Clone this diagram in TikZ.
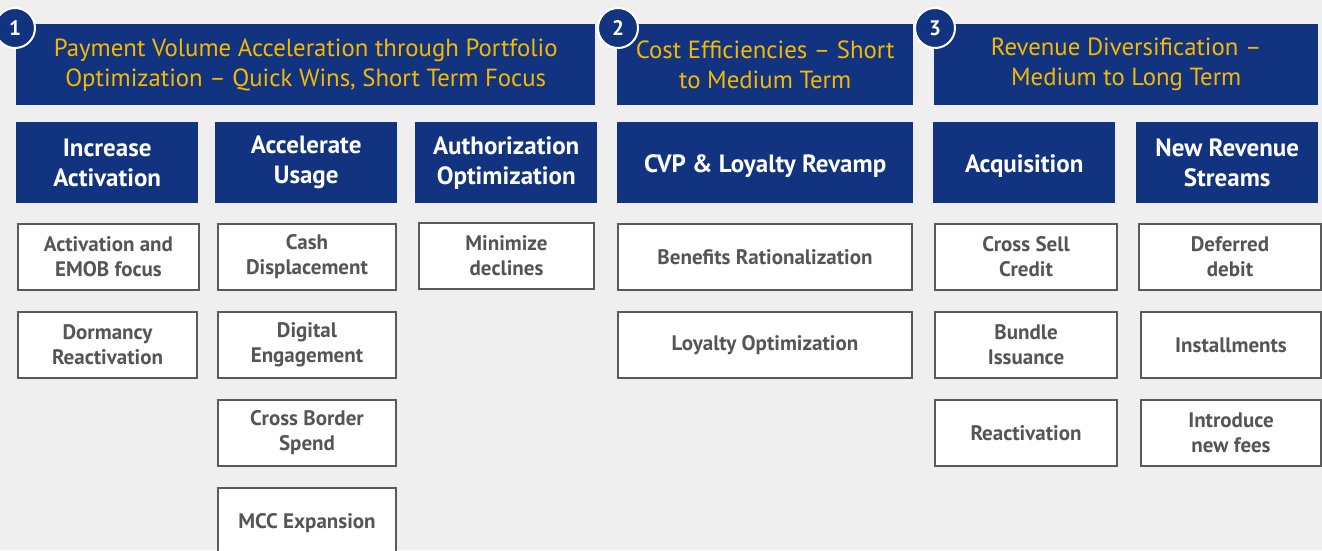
\documentclass[tikz,border=0pt]{standalone}
\usepackage{fontspec}
\setmainfont{PT Sans}
\definecolor{pagegray}{RGB}{239,239,239}
\definecolor{navy}{RGB}{18,52,128}
\definecolor{gold}{RGB}{246,185,0}
\definecolor{boxgray}{RGB}{90,90,90}
\definecolor{txtgray}{RGB}{85,85,85}
\tikzset{
  hdr/.style={fill=navy,text=gold,anchor=north west,inner sep=0pt,align=center,
    minimum height=81pt,font=\fontsize{24.8}{30}\selectfont},
  sub/.style={fill=navy,text=white,anchor=north west,inner sep=0pt,align=center,
    minimum height=81pt,font=\bfseries\fontsize{25}{30}\selectfont},
  subone/.style={sub,text depth=0pt,text height=19pt},
  item/.style={draw=boxgray,line width=2pt,fill=white,text=txtgray,anchor=north west,
    inner sep=0pt,align=center,minimum height=66pt,font=\bfseries\fontsize{21}{25}\selectfont},
  num/.style={circle,fill=navy,draw=white,line width=2pt,text=white,inner sep=0pt,
    minimum size=40pt,font=\bfseries\fontsize{21}{21}\selectfont}
}
\begin{document}
\begin{tikzpicture}[x=1pt,y=-1pt]
    \clip (0,0) rectangle (1322,550);
    \fill[pagegray] (0,0) rectangle (1322,550);
    % phase headers
    \node[hdr,minimum width=579pt] (h1) at (16,24) {Payment Volume Acceleration through Portfolio\\Optimization -- Quick Wins, Short Term Focus};
    \node[hdr,minimum width=296pt] (h2) at (617,24) {Cost Efficiencies -- Short\\to Medium Term};
    \node[hdr,minimum width=384pt] (h3) at (934,24) {Revenue Diversification --\\Medium to Long Term};
    \node[num] (n1) at (15,28) {1};
    \node[num] (n2) at (618,28) {2};
    \node[num] (n3) at (935,28) {3};
    % levers
    \node[sub,minimum width=182pt] (s1) at (16,122) {Increase\\Activation};
    \node[sub,minimum width=182pt] (s2) at (215,122) {Accelerate\\Usage};
    \node[sub,minimum width=182pt] (s3) at (415,122) {Authorization\\Optimization};
    \node[subone,minimum width=296pt] (s4) at (617,122) {CVP \& Loyalty Revamp};
    \node[subone,minimum width=182pt] (s5) at (933,122) {Acquisition};
    \node[sub,minimum width=182pt] (s6) at (1136,122) {New Revenue\\Streams};
    % initiatives
    \node[item,minimum width=181pt] (a1) at (17,223) {Activation and\\EMOB focus};
    \node[item,minimum width=179pt] (a2) at (17,311) {Dormancy\\Reactivation};
    \node[item,minimum width=178pt] (b1) at (217,223) {Cash\\Displacement};
    \node[item,minimum width=178pt] (b2) at (217,311) {Digital\\Engagement};
    \node[item,minimum width=178pt] (b3) at (217,399) {Cross Border\\Spend};
    \node[item,minimum width=178pt,minimum height=70pt] (b4) at (217,487) {MCC Expansion};
    \node[item,minimum width=175pt] (c1) at (418,222) {Minimize\\declines};
    \node[item,minimum width=294pt] (d1) at (617,223) {Benefits Rationalization};
    \node[item,minimum width=294pt] (d2) at (617,311) {Loyalty Optimization};
    \node[item,minimum width=182pt] (e1) at (934,223) {Cross Sell\\Credit};
    \node[item,minimum width=182pt] (e2) at (934,311) {Bundle\\Issuance};
    \node[item,minimum width=182pt] (e3) at (934,399) {Reactivation};
    \node[item,minimum width=182pt] (f1) at (1138,223) {Deferred\\debit};
    \node[item,minimum width=180pt] (f2) at (1140,311) {Installments};
    \node[item,minimum width=180pt] (f3) at (1140,399) {Introduce\\new fees};
\end{tikzpicture}
\end{document}
